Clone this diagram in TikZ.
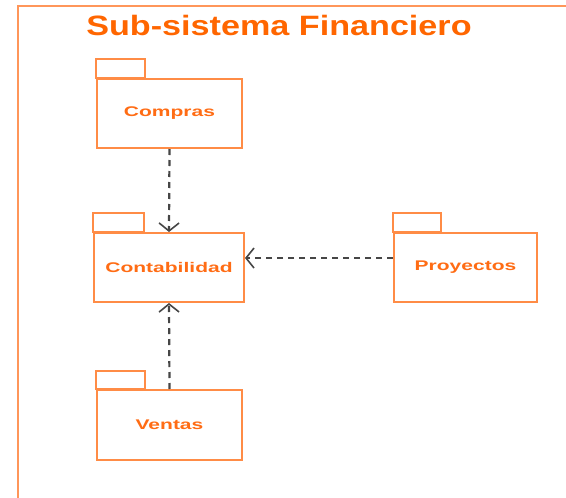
\documentclass[tikz,border=0pt]{standalone}
\usepackage{fontspec}
\setmainfont{Liberation Sans}
\usetikzlibrary{arrows.meta}
\definecolor{pkgtext}{RGB}{255,108,20}
\definecolor{pkgline}{RGB}{255,140,70}
\definecolor{titlecol}{RGB}{255,102,0}
\definecolor{framecol}{RGB}{255,150,90}
\definecolor{dep}{RGB}{70,70,70}
\tikzset{
  pkgbody/.style={draw=pkgline, line width=2pt, fill=white, inner sep=0pt,
    text=pkgtext, font=\fontsize{14}{16}\selectfont\bfseries},
  pkgtab/.style={draw=pkgline, line width=2pt},
  depline/.style={draw=dep, line width=2.2pt, dash pattern=on 6pt off 5pt,
    -{Straight Barb[length=8pt,width=20pt,line width=1.6pt]}},
  frameline/.style={draw=framecol, line width=2pt}
}
\newcommand{\wide}[1]{\scalebox{1.5}[1]{#1}}
\begin{document}
\begin{tikzpicture}[x=1pt,y=-1pt]
\useasboundingbox (0,0) rectangle (566,498);
\fill[white] (0,0) rectangle (566,498);
\draw[frameline] (18,499) -- (18,6) -- (567,6);
\node[text=titlecol, font=\fontsize{28}{31}\selectfont\bfseries] (title) at (279,25) {\scalebox{1.22}[1]{Sub-sistema Financiero}};

\node[pkgbody, minimum width=145pt, minimum height=69pt] (compras) at (169.5,113.5) {\wide{Compras}};
\draw[pkgtab] (compras.north west) rectangle ++(49,-19);

\node[pkgbody, minimum width=150pt, minimum height=69pt] (cont) at (169,267.5) {\wide{Contabilidad}};
\draw[pkgtab] (cont.north west) rectangle ++(51,-19);

\node[pkgbody, minimum width=143pt, minimum height=69pt] (proy) at (465.5,267.5) {\wide{Proyectos}};
\draw[pkgtab] (proy.north west) rectangle ++(48,-19);

\node[pkgbody, minimum width=145pt, minimum height=70pt] (ventas) at (169.5,425) {\wide{Ventas}};
\draw[pkgtab] (ventas.north west) rectangle ++(49,-18);

\draw[depline] (compras.south) -- (cont.north);
\draw[depline] ([yshift=9.5pt]proy.west) -- ([yshift=9.5pt]cont.east);
\draw[depline] (ventas.north) -- (cont.south);
\end{tikzpicture}
\end{document}
